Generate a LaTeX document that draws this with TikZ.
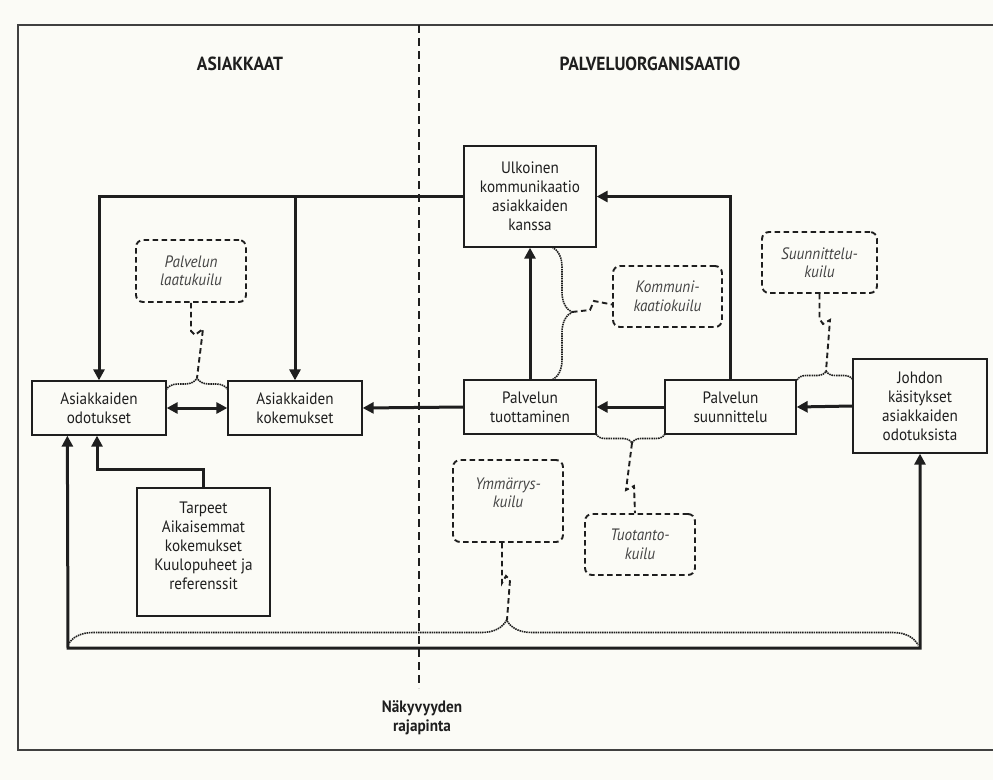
\documentclass[tikz,border=0pt]{standalone}
\usepackage{fontspec}
\setmainfont{PT Sans}[FakeStretch=0.92]
\usetikzlibrary{arrows.meta,decorations.pathreplacing,calc}
\definecolor{bg}{RGB}{251,251,246}
\definecolor{ink}{RGB}{30,30,30}
\definecolor{gapink}{RGB}{68,68,68}
\tikzset{
  box/.style={draw=ink, line width=1.3pt, inner sep=0pt, align=center, text=ink},
  gapfont/.style={font=\fontsize{16.5}{18.5}\selectfont\itshape, text=gapink},
  gapbox/.style={draw=ink, line width=1.9pt, dash pattern=on 5.5pt off 3.5pt, rounded corners=7pt,
    inner sep=0pt, align=center, gapfont},
  flow/.style={draw=ink, line width=3pt, -{Triangle[length=11pt,width=11pt]}},
  flowboth/.style={draw=ink, line width=3pt, {Triangle[length=11pt,width=11pt]}-{Triangle[length=11pt,width=11pt]}},
  gapline/.style={draw=ink, line width=1.9pt, dash pattern=on 5.5pt off 3.5pt},
  bracepath/.style={draw=ink, line width=1.6pt, dash pattern=on 1.5pt off 0.8pt, decorate},
  title/.style={font=\bfseries\fontsize{19}{22}\selectfont, text=ink, align=center}
}
\begin{document}
\begin{tikzpicture}[x=1pt, y=-1pt, font=\fontsize{16.5}{19}\selectfont]
\useasboundingbox[fill=bg] (0,0) rectangle (993,780);

% frame and visibility line
\draw[line width=1.4pt, draw=ink!85] (993,25) -- (18,25) -- (18,750) -- (993,750);
\coordinate (divtop) at (419,25);
\coordinate (divbot) at (419,688);
\draw[line width=2.4pt, dash pattern=on 8pt off 5pt, draw=ink] (divtop) -- (divbot);

% titles
\node[title] (tasi) at (240,64) {ASIAKKAAT};
\node[title] (tpal) at (650,64) {PALVELUORGANISAATIO};
\node[title, font=\bfseries\fontsize{16.5}{19}\selectfont] (traja) at (422,718) {Näkyvyyden\\rajapinta};

% main boxes
\node[box, minimum width=134pt, minimum height=54pt] (odo) at (99,408) {Asiakkaiden\\odotukset};
\node[box, minimum width=134pt, minimum height=54pt] (kok) at (295,408) {Asiakkaiden\\kokemukset};
\node[box, minimum width=132pt, minimum height=101pt] (ulk) at (530,196.5) {Ulkoinen\\kommunikaatio\\asiakkaiden\\kanssa};
\node[box, minimum width=132pt, minimum height=54pt] (tuo) at (530,407) {Palvelun\\tuottaminen};
\node[box, minimum width=131pt, minimum height=54pt] (suu) at (730.5,407) {Palvelun\\suunnittelu};
\node[box, minimum width=134pt, minimum height=94pt] (joh) at (920,406) {Johdon\\käsitykset\\asiakkaiden\\odotuksista};
\node[box, minimum width=133pt, minimum height=128pt] (tar) at (203.5,552) {};
\node[align=center, text=ink, inner sep=0pt] (tartext) at (203.5,546) {Tarpeet\\Aikaisemmat\\kokemukset\\Kuulopuheet ja\\referenssit};

% gap boxes
\node[gapbox, minimum width=110pt, minimum height=62pt] (laatu) at (191,271) {Palvelun\\laatukuilu};
\node[gapbox, minimum width=109pt, minimum height=61pt] (komm) at (667.5,296.5) {Kommuni-\\kaatiokuilu};
\node[gapbox, minimum width=115pt, minimum height=61pt] (suunk) at (819.5,262.5) {Suunnittelu-\\kuilu};
\node[gapbox, minimum width=110pt, minimum height=82pt] (ymm) at (508,501) {};
\node[align=center, inner sep=0pt, gapfont] (ymmtext) at (508,493) {Ymmärrys-\\kuilu};
\node[gapbox, minimum width=110pt, minimum height=61pt] (tuok) at (640,544.5) {Tuotanto-\\kuilu};

% thick flow arrows
\draw[flow] (ulk.west) -| (odo.north);
\draw[flow] (kok.north |- ulk.west) -- (kok.north);
\draw[flow] (suu.north) |- (ulk.east);
\draw[flow] (tuo.north) -- (ulk.south);
\draw[flow] (tuo.west) -- (kok.east);
\draw[flow] (suu.west) -- (tuo.east);
\draw[flow] (joh.west) -- (suu.east);
\draw[flowboth] (odo.east) -- (kok.west);
\coordinate (oa) at ($(odo.south west)+(36,0)$);
\coordinate (ya) at (68,648);
\draw[flowboth] (oa) -- (ya) -| (joh.south);
\coordinate (tarbend) at ($(odo.south)+(-2,34)$);
\draw[flow] (tar.north) |- (tarbend) -- ($(odo.south)+(-2,0)$);

% braces (dotted)
\coordinate (b1a) at (166,390); \coordinate (b1b) at (228,390);
\draw[bracepath, decoration={brace, amplitude=12pt, aspect=0.5}] (b1a) -- (b1b);
\coordinate (b2a) at (552,247); \coordinate (b2b) at (552,380);
\draw[bracepath, decoration={brace, amplitude=20pt, aspect=0.49}] (b2a) -- (b2b);
\coordinate (b3a) at (797,380); \coordinate (b3b) at (853,380);
\draw[bracepath, decoration={brace, amplitude=9pt, aspect=0.52}] (b3a) -- (b3b);
\coordinate (b4a) at (665,434); \coordinate (b4b) at (596,434);
\draw[bracepath, decoration={brace, amplitude=9pt, aspect=0.48}] (b4a) -- (b4b);
\coordinate (b5a) at (68,645); \coordinate (b5b) at (918,645);
\draw[bracepath, decoration={brace, amplitude=25pt, aspect=0.516}] (b5a) -- (b5b);

% brace tips
\coordinate (laatutip) at (197,378);
\coordinate (kommtip) at (572,312);
\coordinate (suuntip) at (826,371);
\coordinate (tuottip) at (632,443);
\coordinate (ymmtip) at (507,620);

% dashed zig-zag connectors from gaps to braces
\draw[gapline] (laatu.south) -- ++(0,28) -- ++(4,4) -- ++(8,-6) -- (laatutip);
\draw[gapline] (suunk.south) -- ++(0,25) -- ++(3.5,5) -- ++(7,-4) -- (suuntip);
\draw[gapline] (tuottip) -- ++(-6,47) -- ++(8,-4) -- ($(tuok.north)+(-5,0)$);
\draw[gapline] ($(ymm.south)+(-6,0)$) -- ++(0,40) -- ++(4,-7) -- ++(4,4) -- (ymmtip);
\draw[gapline] (kommtip) -- ++(18,-2) -- ++(4,-9) -- ($(komm.west)+(0,8)$);
\end{tikzpicture}
\end{document}
